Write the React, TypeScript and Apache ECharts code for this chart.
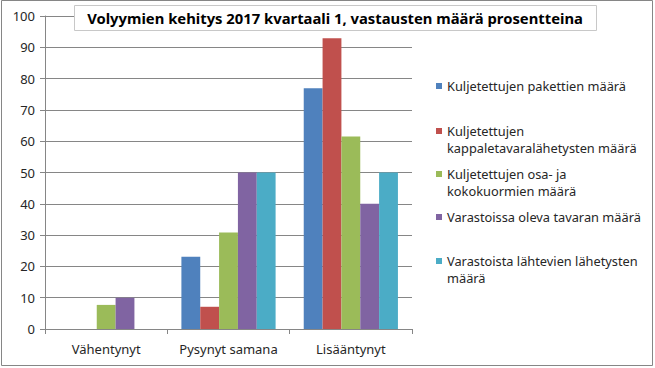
import React, { useEffect, useRef } from "react";
import * as echarts from "echarts";

const categories = ["Vähentynyt", "Pysynyt samana", "Lisääntynyt"];
const seriesNames = [
  "Kuljetettujen pakettien määrä",
  "Kuljetettujen kappaletavaralähetysten määrä",
  "Kuljetettujen osa- ja kokokuormien määrä",
  "Varastoissa oleva tavaran määrä",
  "Varastoista lähtevien lähetysten määrä",
];
const legendLines = [
  ["Kuljetettujen pakettien määrä"],
  ["Kuljetettujen", "kappaletavaralähetysten määrä"],
  ["Kuljetettujen osa- ja", "kokokuormien määrä"],
  ["Varastoissa oleva tavaran määrä"],
  ["Varastoista lähtevien lähetysten", "määrä"],
];
const pakettien = [0, 23.1, 76.9];
const kappaletavara = [0, 7.1, 92.9];
const kokokuormat = [7.7, 30.8, 61.5];
const varastoissa = [10, 50, 40];
const lahtevat = [0, 50, 50];
const seriesValues = [pakettien, kappaletavara, kokokuormat, varastoissa, lahtevat];
const colors = ["#4F81BD", "#C0504D", "#9BBB59", "#8064A2", "#4BACC6"];
const yTicks = { min: 0, max: 100, interval: 10 };
const title = "Volyymien kehitys 2017 kvartaali 1, vastausten määrä prosentteina";

const FONT = "'Noto Sans', 'DejaVu Sans', sans-serif";
const legendCenters = [86, 131, 174, 217, 261];
const LH = 17;

export default function App() {
  const ref = useRef<HTMLDivElement>(null);
  useEffect(() => {
    if (!ref.current) return;
    const chart = echarts.init(ref.current, undefined, { renderer: "svg" });
    chart.setOption({
      animation: false,
      color: colors,
      textStyle: { fontFamily: FONT },
      grid: { left: 45, right: 243, top: 16, bottom: 39, containLabel: false },
      xAxis: {
        type: "category",
        data: categories,
        axisLine: { lineStyle: { color: "#868686" } },
        axisTick: { show: true, length: 5, lineStyle: { color: "#868686" } },
        axisLabel: { color: "#262626", fontSize: 13, margin: 13, fontFamily: FONT, interval: 0 },
      },
      yAxis: {
        type: "value",
        min: yTicks.min,
        max: yTicks.max,
        interval: yTicks.interval,
        axisLine: { show: true, lineStyle: { color: "#868686" } },
        axisTick: { show: true, length: 5, lineStyle: { color: "#868686" } },
        axisLabel: { color: "#262626", fontSize: 13, margin: 10, fontFamily: FONT },
        splitLine: { lineStyle: { color: "#868686", width: 1 } },
      },
      legend: seriesNames.map((name, i) => {
        const lines = legendLines[i];
        const multi = lines.length > 1;
        const text = multi ? [" ", ...lines].join("\n") : lines[0];
        const halfBox = multi ? (LH * 3) / 2 : LH / 2;
        return {
          data: [name],
          left: 436,
          top: legendCenters[i] - halfBox,
          padding: 0,
          orient: "vertical",
          itemWidth: 6,
          itemHeight: 6,
          icon: "rect",
          formatter: () => text,
          textStyle: {
            color: "#262626",
            fontSize: 12.8,
            fontFamily: FONT,
            lineHeight: LH,
          },
          selectedMode: false,
        };
      }),
      series: seriesNames.map((name, i) => ({
        name,
        type: "bar",
        data: seriesValues[i],
        barGap: "0%",
        barCategoryGap: "23%",
        itemStyle: { color: colors[i] },
      })),
      graphic: [
        {
          type: "rect",
          shape: { x: 1.5, y: 0.5, width: 651, height: 365 },
          style: { fill: "none", stroke: "#868686", lineWidth: 1 },
          silent: true,
        },
        {
          type: "rect",
          shape: { x: 74.5, y: 5.5, width: 522, height: 25 },
          style: { fill: "#ffffff", stroke: "#c8c8c8", lineWidth: 1 },
          z: 10,
        },
        {
          type: "text",
          x: 335,
          y: 18,
          z: 11,
          style: {
            text: title,
            fill: "#000000",
            font: `bold 14.8px ${FONT}`,
            align: "center",
            verticalAlign: "middle",
          },
        },
      ],
    });
    return () => chart.dispose();
  }, []);
  return (
    <div
      ref={ref}
      style={{ position: "fixed", left: 0, top: 0, width: 655, height: 368, background: "#fff" }}
    />
  );
}
